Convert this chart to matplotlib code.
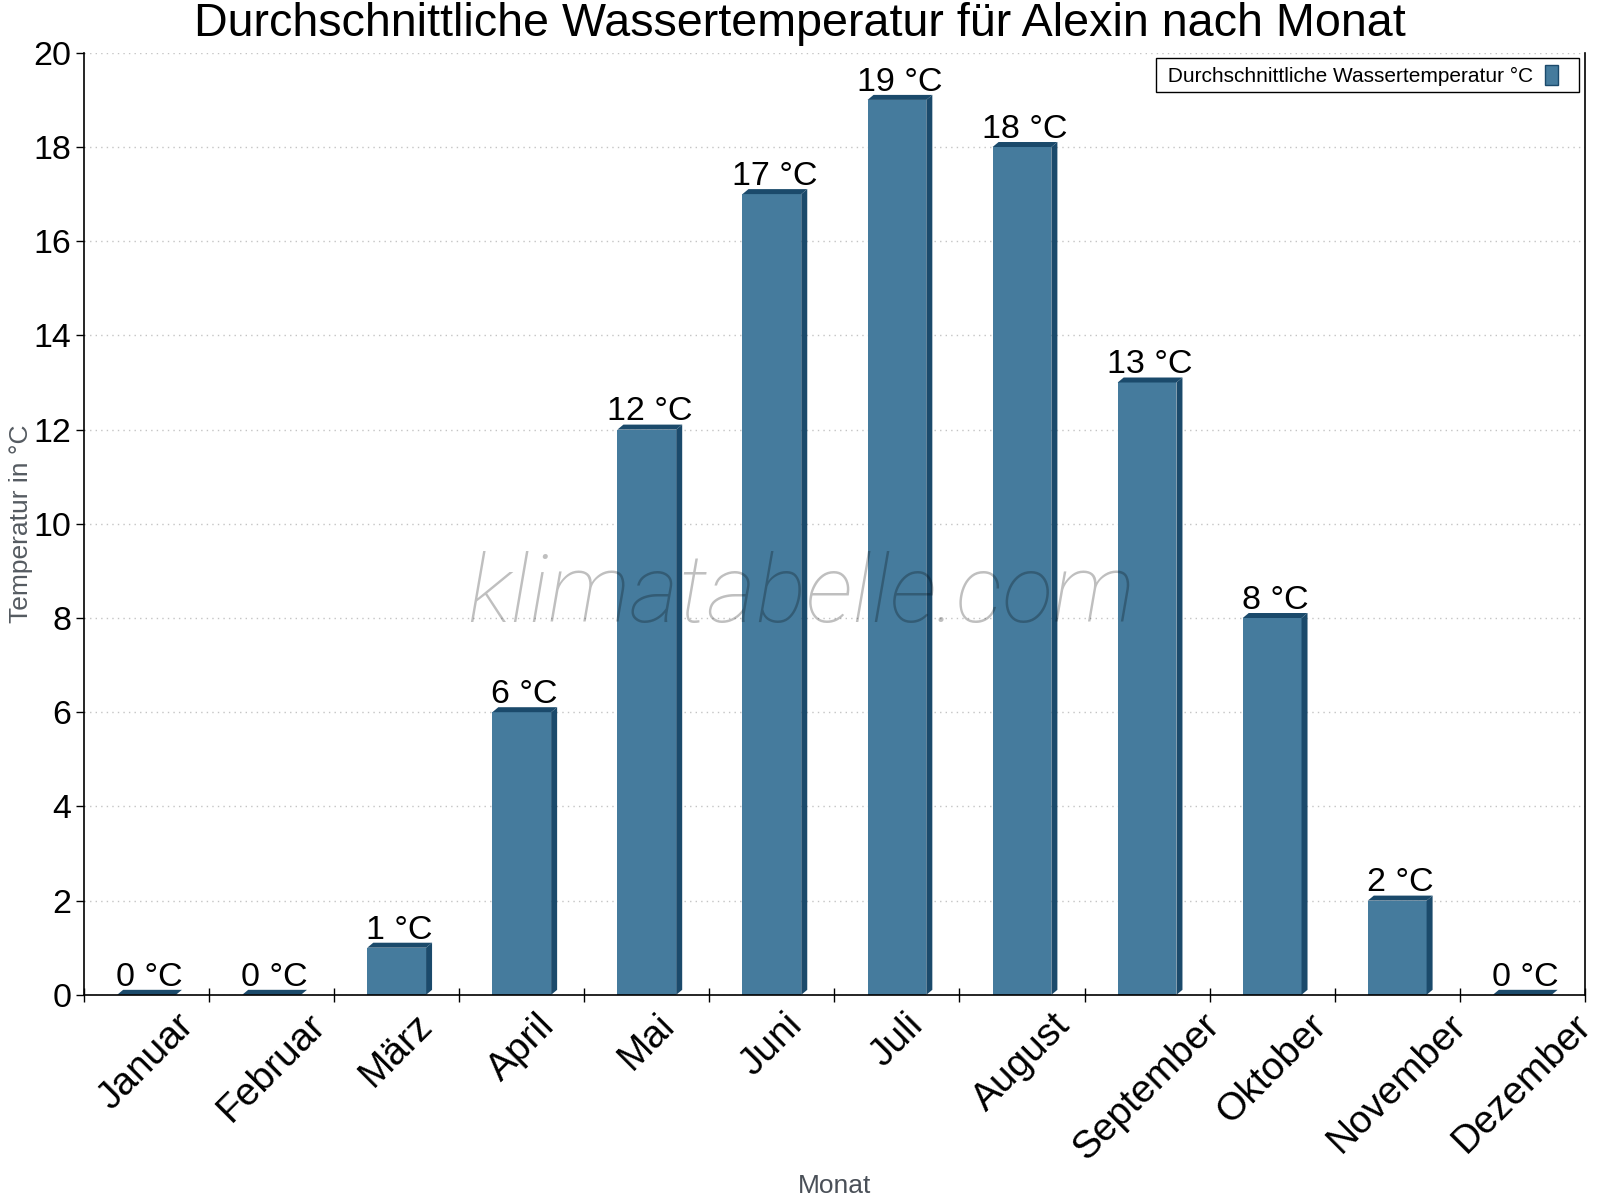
import matplotlib
matplotlib.use("Agg")
import matplotlib.pyplot as plt
from matplotlib.patches import Polygon, Rectangle
from matplotlib.legend_handler import HandlerPatch
from matplotlib.ticker import FixedLocator

months = ["Januar", "Februar", "März", "April", "Mai", "Juni", "Juli",
          "August", "September", "Oktober", "November", "Dezember"]
water_temp = [0, 0, 1, 6, 12, 17, 19, 18, 13, 8, 2, 0]
y_ticks = [0, 2, 4, 6, 8, 10, 12, 14, 16, 18, 20]

FRONT = "#457b9d"
DARK = "#1b4a6b"
FONT = "Liberation Sans"

plt.rcParams["font.family"] = [FONT, "DejaVu Sans"]

fig = plt.figure(figsize=(16, 12), dpi=100)
ax = fig.add_axes([0.0525, 0.171, 0.938, 0.785])

bar_w = 0.47
dx = 0.048   # side depth, category units
dy = 0.106   # top depth, temperature units

xs = list(range(len(months)))
bars = ax.bar(xs, water_temp, width=bar_w, color=FRONT, linewidth=0, zorder=3)

for b, v in zip(bars, water_temp):
    x0 = b.get_x()
    x1 = x0 + b.get_width()
    top = Polygon([(x0, v), (x1, v), (x1 + dx, v + dy), (x0 + dx, v + dy)],
                  closed=True, facecolor=DARK, edgecolor="none", zorder=3)
    ax.add_patch(top)
    if v > 0:
        side = Polygon([(x1, 0), (x1, v), (x1 + dx, v + dy), (x1 + dx, dy)],
                       closed=True, facecolor=DARK, edgecolor="none", zorder=3)
        ax.add_patch(side)
    ax.annotate(f"{v} °C", xy=(x0 + b.get_width() / 2 + dx / 2, v + dy),
                xytext=(0, 3), textcoords="offset points",
                ha="center", va="baseline", fontsize=24.5, color="black", zorder=5)

ax.set_xlim(-0.5, len(months) - 0.5)
ax.set_ylim(0, 20)
ax.set_yticks(y_ticks)
ax.tick_params(axis="y", direction="out", length=6, width=1, pad=3,
               labelsize=24.5, colors="black")

ax.xaxis.set_major_locator(FixedLocator([i - 0.5 for i in range(len(months) + 1)]))
ax.xaxis.set_minor_locator(FixedLocator(xs))
ax.set_xticklabels([], minor=False)
ax.set_xticklabels(months, minor=True, rotation=45, ha="center", va="top")
ax.tick_params(axis="x", which="major", direction="inout", length=10, width=1)
ax.tick_params(axis="x", which="minor", length=0, pad=9, labelsize=28)

ax.grid(axis="y", color="#c4c4c4", linestyle=(0, (1, 3)), linewidth=1, zorder=0)
ax.set_axisbelow(True)

ax.spines["top"].set_visible(False)
for s in ("left", "bottom", "right"):
    ax.spines[s].set_color("black")
    ax.spines[s].set_linewidth(1.2)
ax.spines["bottom"].set_zorder(4)

ax.set_ylabel("Temperatur in °C", fontsize=19, color="#555b61", labelpad=0)
ax.set_xlabel("Monat", fontsize=19, color="#4a5058")
ax.xaxis.set_label_coords(0.5, -0.19)

fig.suptitle("Durchschnittliche Wassertemperatur für Alexin nach Monat",
             fontsize=33.6, x=0.5, y=0.998, va="top")

ax.text(0.478, 0.423, "klimatabelle.com", transform=ax.transAxes,
        fontsize=68, family="Roboto", style="italic", fontweight="light",
        color="black", alpha=0.25, ha="center", va="center", zorder=6)


def legend_box(legend, orig_handle, xdescent, ydescent, width, height, fontsize):
    return Rectangle((-xdescent, -ydescent), width * 0.45, height)


handle = Rectangle((0, 0), 1, 1, facecolor=FRONT, edgecolor=DARK, linewidth=1)
leg = ax.legend([handle], [" Durchschnittliche Wassertemperatur °C"],
                handler_map={Rectangle: HandlerPatch(patch_func=legend_box)},
                loc="upper right", bbox_to_anchor=(0.996, 0.994),
                borderaxespad=0, fontsize=15, markerfirst=False,
                handlelength=1.3, handleheight=1.1, handletextpad=0.6,
                borderpad=0.3, fancybox=False, framealpha=1, edgecolor="black")
leg.get_frame().set_linewidth(1)

fig.savefig("out.png", dpi=100)
